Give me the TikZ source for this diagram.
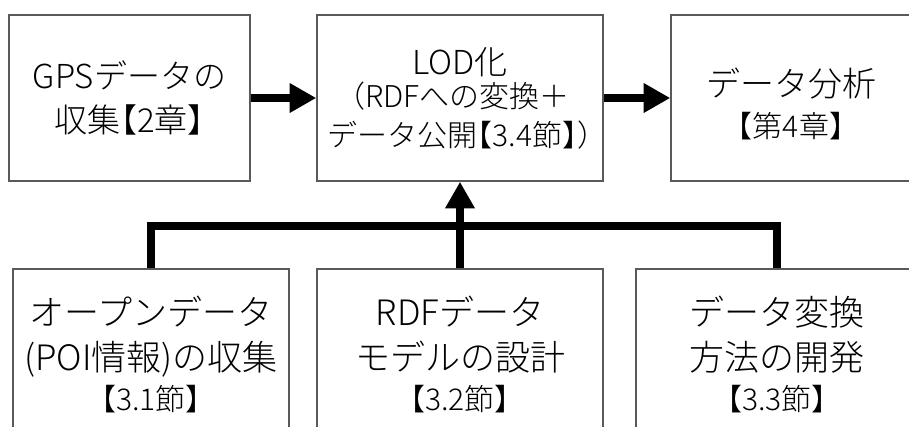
\documentclass[tikz,border=0pt]{standalone}
\usepackage{fontspec}
\setmainfont{Noto Sans CJK JP}[UprightFont={* Light},RawFeature=+halt]
\usepackage{tikz}
\usetikzlibrary{arrows.meta}

% font sizes (outer baselineskip sets the line pitch of a box)
\newcommand{\txtA}{\fontsize{24.75pt}{33pt}\selectfont}
\newcommand{\txtB}{\fontsize{24.75pt}{29pt}\selectfont}
\newcommand{\txtC}{\fontsize{25.5pt}{31pt}\selectfont}
\newcommand{\txtD}{\fontsize{26.25pt}{30pt}\selectfont}
\newcommand{\txtS}{\fontsize{22.5pt}{29pt}\selectfont}
\newcommand{\txtM}{\fontsize{22.5pt}{30pt}\selectfont}

\begin{document}
\begin{tikzpicture}[x=0.75pt,y=0.75pt,yscale=-1,xscale=1,
        box/.style={draw=black!65,line width=1.1pt,fill=white,align=center,inner sep=0pt},
        flow/.style={line width=6pt,-{Triangle[length=20pt,width=21pt]}},
        feed/.style={line width=6pt}]

        \useasboundingbox (0,0) rectangle (909,427);

        % top row
        \node [box,font=\txtA,minimum width=180.75pt,minimum height=124.5pt] (gps) at (129.5,98) {GPSデータの\\収集【2章】};
        \node [box,font=\txtB,minimum width=214.5pt,minimum height=124.5pt] (lod) at (460,98) {LOD化\\[-4pt]\txtS （RDFへの変換＋\\\txtS データ公開【3.4節】）};
        \node [box,font=\txtC,minimum width=180pt,minimum height=124.5pt] (ana) at (791,98) {\rule{0pt}{30pt}データ分析\\\txtS 【第4章】};

        % bottom row
        \node [box,font=\txtD,minimum width=207pt,minimum height=128.25pt] (poi) at (151,354.5) {オープンデータ\\[4pt](POI情報)の収集\\\txtM 【3.1節】};
        \node [box,font=\txtD,minimum width=214.5pt,minimum height=128.25pt] (rdf) at (460,354.5) {RDFデータ\\[4pt]モデルの設計\\\txtM 【3.2節】};
        \node [box,font=\txtD,minimum width=211.5pt,minimum height=128.25pt] (conv) at (777,354.5) {データ変換\\[4pt]方法の開発\\\txtM 【3.3節】};

        \coordinate (hub) at (460,226);

        \draw [flow] (gps.east) -- (lod.west);
        \draw [flow] (lod.east) -- (ana.west);
        \draw [feed] (poi.north) |- (hub) -| (conv.north);
        \draw [flow] (rdf.north) -- (lod.south);
\end{tikzpicture}
\end{document}
